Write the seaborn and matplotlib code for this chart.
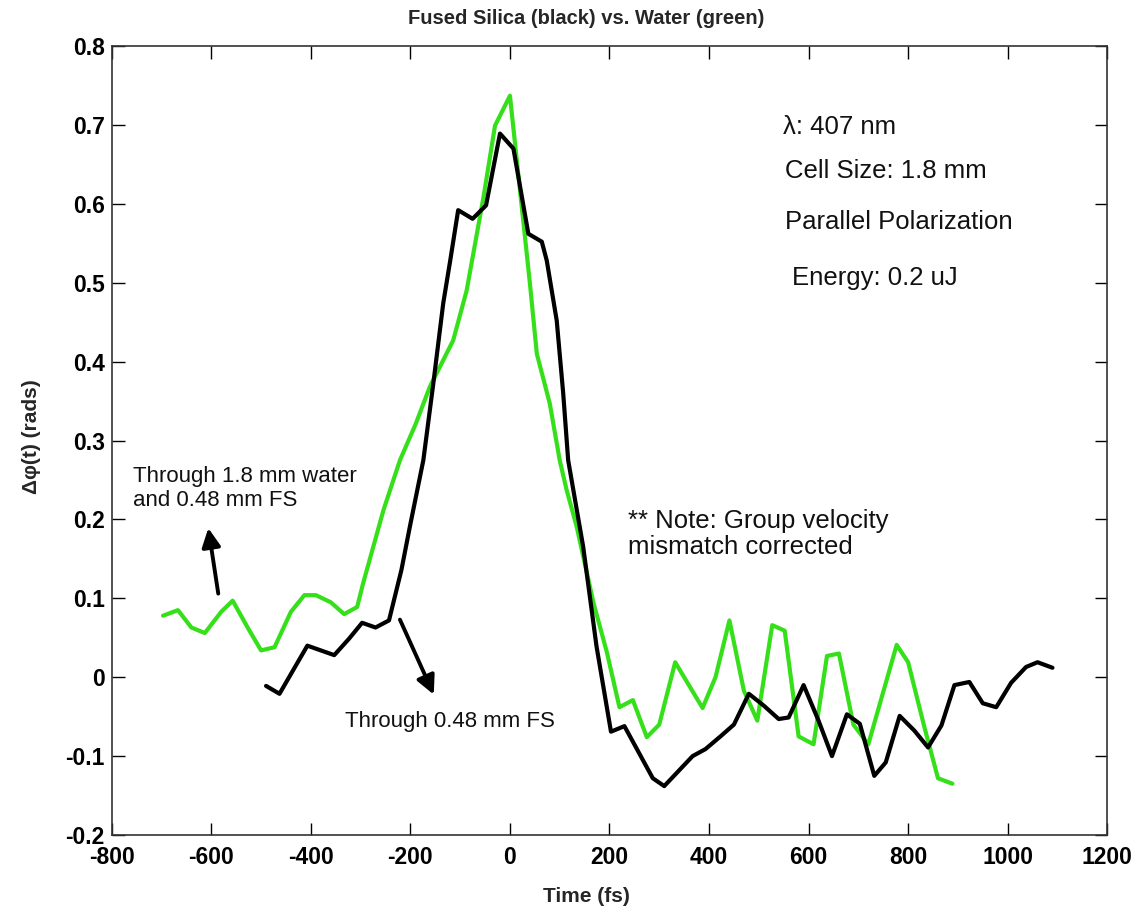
import matplotlib
matplotlib.use("Agg")
import matplotlib.pyplot as plt
import seaborn as sns
import pandas as pd

# ---- data ----
water_t = [-697, -667, -640, -613, -580, -557, -527, -500, -473, -440, -413, -390,
           -360, -333, -307, -295, -254, -221, -190, -161, -114, -87, -53, -30, 0,
           40, 54, 80, 100, 114, 134, 168, 195, 220, 247, 275, 300, 332, 387, 413,
           441, 470, 497, 527, 552, 580, 610, 637, 661, 690, 720, 777, 800, 833,
           860, 889]
water_v = [0.078, 0.085, 0.063, 0.056, 0.083, 0.097, 0.063, 0.034, 0.038, 0.083,
           0.104, 0.104, 0.095, 0.080, 0.089, 0.119, 0.212, 0.275, 0.320, 0.368,
           0.427, 0.490, 0.609, 0.699, 0.737, 0.500, 0.410, 0.347, 0.275, 0.237,
           0.191, 0.094, 0.031, -0.038, -0.029, -0.076, -0.060, 0.019, -0.039,
           0.000, 0.072, -0.017, -0.055, 0.066, 0.059, -0.075, -0.085, 0.027,
           0.030, -0.060, -0.085, 0.041, 0.019, -0.064, -0.128, -0.135]

silica_t = [-490, -463, -407, -380, -353, -323, -297, -270, -243, -218, -201, -174,
            -154, -134, -120, -104, -75, -48, -20, 7, 37, 64, 74, 94, 107, 117, 147,
            174, 203, 230, 287, 310, 367, 393, 423, 450, 480, 510, 540, 560, 590,
            620, 647, 677, 703, 732, 755, 783, 813, 840, 867, 893, 923, 950, 977,
            1007, 1037, 1060, 1090]
silica_v = [-0.011, -0.021, 0.040, 0.034, 0.028, 0.049, 0.069, 0.063, 0.072, 0.136,
            0.191, 0.275, 0.372, 0.474, 0.528, 0.592, 0.581, 0.598, 0.689, 0.670,
            0.562, 0.552, 0.528, 0.452, 0.360, 0.275, 0.166, 0.039, -0.069, -0.062,
            -0.128, -0.138, -0.100, -0.091, -0.075, -0.060, -0.021, -0.036, -0.053,
            -0.051, -0.010, -0.055, -0.100, -0.047, -0.059, -0.125, -0.108, -0.049,
            -0.068, -0.089, -0.061, -0.010, -0.006, -0.033, -0.038, -0.007, 0.013,
            0.019, 0.012]

x_ticks = [-800, -600, -400, -200, 0, 200, 400, 600, 800, 1000, 1200]
y_ticks = [-0.2, -0.1, 0, 0.1, 0.2, 0.3, 0.4, 0.5, 0.6, 0.7, 0.8]
y_tick_labels = ["-0.2", "-0.1", "0", "0.1", "0.2", "0.3", "0.4", "0.5", "0.6", "0.7", "0.8"]
x_tick_labels = ["-800", "-600", "-400", "-200", "0", "200", "400", "600", "800", "1000", "1200"]

info_lines = ["λ: 407 nm", "Cell Size: 1.8 mm", "Parallel Polarization", "Energy: 0.2 uJ"]

sns.set_style("ticks")
plt.rcParams["font.family"] = ["Liberation Sans", "DejaVu Sans"]

fig = plt.figure(figsize=(11.45, 9.13), dpi=100)
ax = fig.add_axes([0.0976, 0.0854, 0.8694, 0.8642])

GREEN = "#35e01a"
df_w = pd.DataFrame({"t": water_t, "v": water_v})
df_s = pd.DataFrame({"t": silica_t, "v": silica_v})
sns.lineplot(data=df_w, x="t", y="v", sort=False, estimator=None, color=GREEN, lw=3.0, ax=ax)
sns.lineplot(data=df_s, x="t", y="v", sort=False, estimator=None, color="black", lw=3.0, ax=ax)

ax.set_xlim(-800, 1200)
ax.set_ylim(-0.2, 0.8)
ax.set_xticks(x_ticks)
ax.set_xticklabels(x_tick_labels)
ax.set_yticks(y_ticks)
ax.set_yticklabels(y_tick_labels)
ax.tick_params(direction="in", length=9, width=1, top=True, right=True,
               labelsize=16.5, colors="black")
ax.tick_params(axis="x", pad=8)
ax.tick_params(axis="y", pad=5)
for lbl in ax.get_xticklabels() + ax.get_yticklabels():
    lbl.set_fontweight("bold")
for sp in ax.spines.values():
    sp.set_visible(True)
    sp.set_linewidth(1.2)
    sp.set_color("#333333")

ax.set_xlabel("Time (fs)", fontsize=15, fontweight="bold")
ax.xaxis.set_label_coords(0.477, -0.066)
ax.set_ylabel("Δφ(t) (rads)", fontsize=15, fontweight="bold")
ax.yaxis.set_label_coords(-0.071, 0.505)
ax.text(0.477, 1.0355, "Fused Silica (black) vs. Water (green)", transform=ax.transAxes,
        fontsize=14.5, fontweight="bold", ha="center", va="center")

# right-hand info text
info_y = [0.697, 0.642, 0.577, 0.506]
info_x = [548, 552, 552, 566]
for s, xx, yy in zip(info_lines, info_x, info_y):
    ax.text(xx, yy, s, fontsize=18.5, ha="left", va="center", color="#111111")

ax.text(237, 0.181, "** Note: Group velocity\nmismatch corrected", fontsize=18.5,
        ha="left", va="center", linespacing=1.1, color="#111111")
ax.text(-757, 0.239, "Through 1.8 mm water\nand 0.48 mm FS", fontsize=16,
        ha="left", va="center", linespacing=1.2, color="#111111")
ax.text(-331, -0.056, "Through 0.48 mm FS", fontsize=16,
        ha="left", va="center", color="#111111")

arrow = dict(arrowstyle="-|>", lw=2.8, color="black", mutation_scale=28,
             shrinkA=0, shrinkB=0)
ax.annotate("", xy=(-606, 0.189), xytext=(-586, 0.106), arrowprops=arrow)
ax.annotate("", xy=(-153, -0.022), xytext=(-221, 0.073), arrowprops=arrow)

fig.savefig("out.png", dpi=100)
